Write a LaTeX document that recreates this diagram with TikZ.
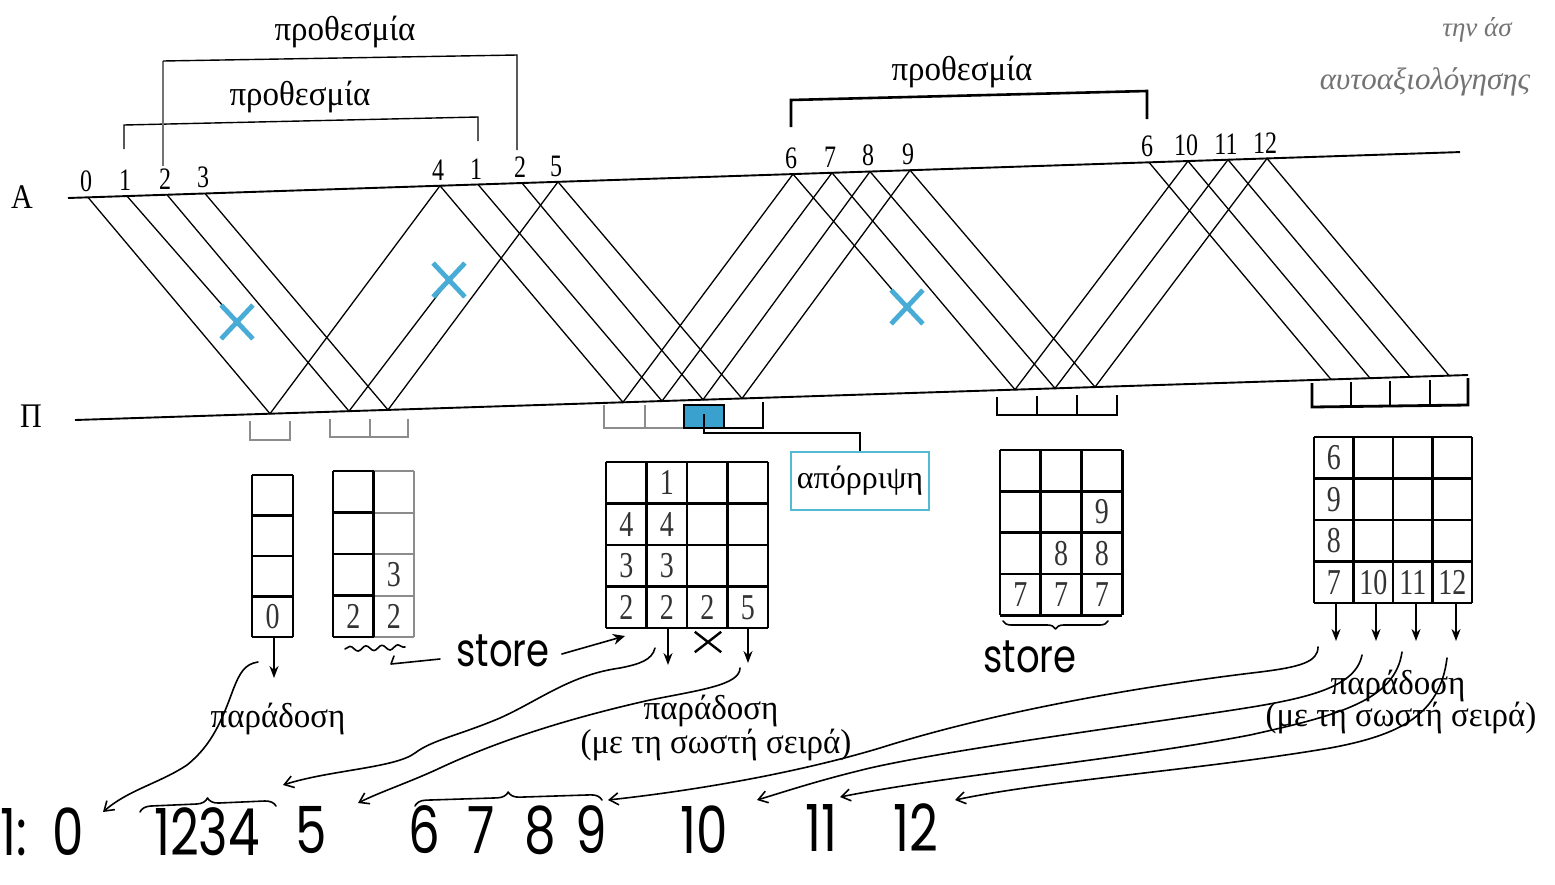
\documentclass[tikz,border=0pt]{standalone}
\usepackage{fontspec}
\setmainfont{Liberation Serif}
\newfontfamily\handfont{Poppins}
\usetikzlibrary{arrows.meta,decorations.pathreplacing,decorations.pathmorphing,shapes.misc,calc}
\definecolor{xblue}{RGB}{72,172,214}
\definecolor{boxblue}{RGB}{84,186,212}
\definecolor{fillblue}{RGB}{58,160,205}
\newcommand\onA[2]{\coordinate (#1) at (#2,{198-0.033*(#2-68)});}
\newcommand\onP[2]{\coordinate (#1) at (#2,{420-0.0323*(#2-75)});}
\newcommand\tgrid[7]{%
  \foreach \ii in {0,...,#4}{\draw[#1] ({#2+\ii*#6},#3) -- ({#2+\ii*#6},{#3+#5*#7});}%
  \foreach \jj in {0,...,#5}{\draw[#1] (#2,{#3+\jj*#7}) -- ({#2+#4*#6},{#3+\jj*#7});}}
\newcommand\settab[4]{\def\TX{#1}\def\TY{#2}\def\CW{#3}\def\RH{#4}}
\newcommand\cnum[4]{\node[cellnum] (#1) at ({\TX+(#3-0.5)*\CW},{\TY+(#2-0.5)*\RH}) {#4};}
\begin{document}
\begin{tikzpicture}[x=1pt,y=-1pt,
  seq/.style={line width=1.3pt},
  axisline/.style={line width=1.9pt},
  axlabel/.style={font=\fontsize{30}{30}\selectfont, inner sep=0pt, yscale=1.15},
  numlab/.style={font=\fontsize{24}{24}\selectfont, anchor=south, inner sep=0pt, yshift=5pt, yscale=1.3},
  greek/.style={font=\fontsize{33}{34}\selectfont, inner sep=0pt, yscale=1.05},
  note/.style={font=\itshape\fontsize{31}{32}\selectfont, inner sep=0pt, text=black!55},
  lost/.style={cross out, draw=xblue, line width=4.8pt, minimum width=27pt, minimum height=29pt, inner sep=0pt},
  deadline/.style={line width=1.4pt},
  gbuf/.style={black!45, line width=2pt},
  bbuf/.style={black, line width=2.8pt},
  tabl/.style={line width=2.8pt, line cap=square},
  gtabl/.style={black!45, line width=2pt, line cap=square},
  cellnum/.style={font=\fontsize{28}{28}\selectfont, inner sep=0pt, text=black!80, yscale=1.3},
  darr/.style={line width=1.7pt, -{Stealth[length=12pt,width=9pt]}},
  handline/.style={line width=1.6pt, line cap=round, line join=round},
  handarrow/.style={handline, -{Straight Barb[length=9pt,width=12pt]}},
  storetxt/.style={font=\handfont\fontsize{37}{37}\selectfont, inner sep=0pt, yscale=1.25},
  seqtxt/.style={font=\handfont\fontsize{50}{50}\selectfont, inner sep=0pt, yscale=1.3},
  discard/.style={draw=boxblue, line width=2.2pt, minimum width=138pt, minimum height=58pt, inner sep=2pt, font=\fontsize{32}{33}\selectfont},
]
\useasboundingbox (0,0) rectangle (1555,884);
\fill[white] (0,0) rectangle (1555,884);

% ---------- axes ----------
\node[axlabel] (labA) at (22,197) {A};
\node[axlabel] (labP) at (31,416) {Π};
\onA{Aleft}{68}\onA{Aright}{1460}
\onP{Pleft}{75}\onP{Pright}{1468}
\draw[axisline] (Aleft) -- (Aright);
\draw[axisline] (Pleft) -- (Pright);

% ---------- points on A ----------
\onA{a0}{88}\onA{a1}{127}\onA{a2}{167}\onA{a3}{205}
\onA{a4}{440}\onA{a1r}{478}\onA{a2r}{522}\onA{a5}{558}
\onA{a6}{793}\onA{a7}{832}\onA{a8}{870}\onA{a9}{910}
\onA{a6r}{1149}\onA{a10}{1188}\onA{a11}{1228}\onA{a12}{1267}
% ---------- points on P ----------
\onP{p0}{270}\onP{p2}{349}\onP{p3}{388}
\onP{p4}{623}\onP{p1r}{662}\onP{p2r}{703}\onP{p5}{742}
\onP{p7}{1015}\onP{p8}{1055}\onP{p9}{1095}
\onP{p6r}{1331}\onP{p10}{1370}\onP{p11}{1410}\onP{p12}{1449}
\coordinate (x1) at (237,322);
\coordinate (x2) at (449,280);
\coordinate (x3) at (907,307);

% ---------- frames and acks ----------
\draw[seq] (a0) -- (p0) -- (a4) -- (p4) -- (a6) -- (x3);
\draw[seq] (a1) -- (x1);
\draw[seq] (a2) -- (p2) -- (x2);
\draw[seq] (a3) -- (p3) -- (a5) -- (p5) -- (a9) -- (p9) -- (a12) -- (p12);
\draw[seq] (a1r) -- (p1r) -- (a7) -- (p7) -- (a10) -- (p10);
\draw[seq] (a2r) -- (p2r) -- (a8) -- (p8) -- (a11) -- (p11);
\draw[seq] (a6r) -- (p6r);

\foreach \c/\t in {a0/0,a1/1,a2/2,a3/3,a4/4,a1r/1,a2r/2,a5/5,a6/6,a7/7,a8/8,a9/9,a6r/6,a10/10,a11/11,a12/12}
  \node[numlab] (n-\c) at ([xshift=-2pt]\c) {\t};

\node[lost] (lx1) at (x1) {};
\node[lost] (lx2) at (x2) {};
\node[lost] (lx3) at (x3) {};

% ---------- deadlines ----------
\draw[deadline] (124,149) -- (124,125) -- (478,117) -- (478,141);
\node[greek] (dl1) at (300,97) {προθεσμία};
\draw[deadline, black!55] (163,166) -- (163,61);
\draw[deadline] (163,61) -- (517,55) -- (517,150);
\node[greek] (dl2) at (345,32) {προθεσμία};
\draw[line width=2.6pt] (791,127) -- (791,100) -- (1147,91) -- (1147,119);
\node[greek] (dl3) at (962,72) {προθεσμία};

\node[note, font=\itshape\fontsize{27}{28}\selectfont] (tr1) at (1477,30) {την άσ};
\node[note] (tr2) at (1425,82) {αυτοαξιολόγησης};

% ---------- receiver windows ----------
\draw[gbuf] (250,421) -- (250,440) -- (290,440) -- (290,421);
\draw[gbuf] (330,419) -- (330,437) -- (408,437) -- (408,419);
\draw[gbuf] (370,419) -- (370,437);
\draw[gbuf] (604,405) -- (604,428) -- (684,428);
\draw[gbuf] (645,405) -- (645,428);
\draw[bbuf, fill=fillblue] (684,405) rectangle (724,428);
\draw[bbuf] (724,428) -- (763,428) -- (763,402);
\draw[bbuf] (997,397) -- (997,415) -- (1117,415) -- (1117,395);
\draw[bbuf] (1037,396) -- (1037,415);
\draw[bbuf] (1077,395) -- (1077,415);
\draw[bbuf] (1312,383) -- (1312,407) -- (1468,405) -- (1468,378);
\draw[bbuf] (1351,382) -- (1351,406);
\draw[bbuf] (1390,381) -- (1390,406);
\draw[bbuf] (1430,380) -- (1430,405);

\node[discard] (disc) at (860,481) {απόρριψη};
\coordinate (slotc) at (704,414);
\draw[line width=2.6pt] (slotc) -- ++(0,19) -| (disc.north);

% ---------- receiver buffers ----------
\tgrid{tabl}{252}{475}{1}{4}{41}{40.5}
\settab{252}{475}{41}{40.5}
\cnum{t1-41}{4}{1}{0}

\tgrid{gtabl}{333}{471}{2}{4}{40.5}{41.5}
\tgrid{tabl}{333}{471}{1}{4}{40.5}{41.5}
\settab{333}{471}{40.5}{41.5}
\cnum{t2-32}{3}{2}{3}
\cnum{t2-41}{4}{1}{2}
\cnum{t2-42}{4}{2}{2}

\tgrid{tabl}{606}{462}{4}{4}{40.5}{41.5}
\settab{606}{462}{40.5}{41.5}
\cnum{t3-12}{1}{2}{1}
\cnum{t3-21}{2}{1}{4}
\cnum{t3-22}{2}{2}{4}
\cnum{t3-31}{3}{1}{3}
\cnum{t3-32}{3}{2}{3}
\cnum{t3-41}{4}{1}{2}
\cnum{t3-42}{4}{2}{2}
\cnum{t3-43}{4}{3}{2}
\cnum{t3-44}{4}{4}{5}

\tgrid{tabl}{1000}{450}{3}{4}{40.7}{41.3}
\settab{1000}{450}{40.7}{41.3}
\cnum{t4-23}{2}{3}{9}
\cnum{t4-32}{3}{2}{8}
\cnum{t4-33}{3}{3}{8}
\cnum{t4-41}{4}{1}{7}
\cnum{t4-42}{4}{2}{7}
\cnum{t4-43}{4}{3}{7}

\tgrid{tabl}{1314}{437}{4}{4}{39.5}{41.5}
\settab{1314}{437}{39.5}{41.5}
\cnum{t5-11}{1}{1}{6}
\cnum{t5-21}{2}{1}{9}
\cnum{t5-31}{3}{1}{8}
\cnum{t5-41}{4}{1}{7}
\cnum{t5-42}{4}{2}{10}
\cnum{t5-43}{4}{3}{11}
\cnum{t5-44}{4}{4}{12}

% ---------- delivery arrows ----------
\coordinate (d1) at (274,637);
\draw[darr] (d1) -- ++(0,41);
\coordinate (d3a) at (668,628);
\coordinate (d3b) at (748,628);
\draw[darr] (d3a) -- ++(0,37);
\draw[darr] (d3b) -- ++(0,35);
\node[cross out, draw, line width=2.4pt, minimum width=24pt, minimum height=18pt, inner sep=0pt] (drop) at (708,642) {};
\foreach \k/\xx in {1/1336,2/1376,3/1416,4/1456}{
  \coordinate (d5-\k) at (\xx,604);
  \draw[darr] (d5-\k) -- ++(0,37);
}

% ---------- store annotations ----------
\draw[handline, decorate, decoration={snake, amplitude=2.5pt, segment length=16pt}] (345,649) -- (405,647);
\draw[handline] (394,656) -- (391,664) -- (440,659);
\node[storetxt] (st1) at (503,651) {store};
\coordinate (t3in) at (625,636);
\draw[handline, -{Stealth[length=12pt,width=11pt]}] ([xshift=12pt,yshift=-3pt]st1.east) -- (t3in);
\draw[handline, decorate, decoration={brace, mirror, amplitude=8pt}] (1003,621) -- (1108,621);
\node[storetxt] (st2) at (1030,657) {store};

% ---------- delivered sequence ----------
\node[seqtxt, anchor=west] (slab) at (0,832) {1:};
\node[seqtxt] (s0) at (68,832) {0};
\node[seqtxt] (s1234) at (207,832) {1234};
\node[seqtxt] (s5) at (311,830) {5};
\node[seqtxt] (s6) at (424,830) {6};
\node[seqtxt] (s7) at (481,830) {7};
\node[seqtxt] (s8) at (540,830) {8};
\node[seqtxt] (s9) at (591,830) {9};
\node[seqtxt] (s10) at (704,830) {10};
\node[seqtxt] (s11) at (821,828) {11};
\node[seqtxt] (s12) at (916,828) {12};
\draw[handline, decorate, decoration={brace, amplitude=11pt}] (140,812) -- (276,806);
\draw[handline, decorate, decoration={brace, amplitude=11pt}] (415,806) -- (602,800);

% ---------- delivery curves ----------
\coordinate (cA) at (258,662); \coordinate (eA) at (103,812);
\coordinate (cB) at (655,648); \coordinate (eB) at (283,785);
\coordinate (cC) at (740,668); \coordinate (eC) at (358,803);
\coordinate (cD) at (1318,647); \coordinate (eD) at (608,800);
\coordinate (cE) at (1362,655); \coordinate (eE) at (757,800);
\coordinate (cF) at (1402,652); \coordinate (eF) at (840,797);
\coordinate (cG) at (1447,658); \coordinate (eG) at (955,800);
\draw[handarrow] (cA) .. controls (245,664) and (240,672) .. (233,690) .. controls (222,720) and (212,745) .. (187,765) .. controls (160,783) and (128,790) .. (eA);
\draw[handarrow] (cB) .. controls (652,660) and (640,664) .. (620,668) .. controls (570,675) and (540,700) .. (500,718) .. controls (460,735) and (432,740) .. (415,753) .. controls (395,768) and (330,770) .. (eB);
\draw[handarrow] (cC) .. controls (740,685) and (700,690) .. (650,700) .. controls (570,718) and (500,740) .. (440,768) .. controls (410,782) and (380,792) .. (eC);
\draw[handarrow] (cD) .. controls (1318,662) and (1300,667) .. (1260,672) .. controls (1150,685) and (1000,710) .. (880,748) .. controls (800,772) and (700,790) .. (eD);
\draw[handarrow] (cE) .. controls (1355,690) and (1300,700) .. (1220,712) .. controls (1100,730) and (950,750) .. (870,768) .. controls (820,780) and (790,790) .. (eE);
\draw[handarrow] (cF) .. controls (1395,700) and (1340,715) .. (1250,735) .. controls (1120,760) and (950,775) .. (eF);
\draw[handarrow] (cG) .. controls (1440,715) and (1400,735) .. (1330,748) .. controls (1200,770) and (1050,780) .. (eG);

% ---------- delivery labels ----------
\node[greek] (par1) at (278,719) {παράδοση};
\node[greek] (par2) at (711,711) {παράδοση};
\node[greek] (par2b) at (716,745) {(με τη σωστή σειρά)};
\node[greek] (par3) at (1398,686) {παράδοση};
\node[greek] (par3b) at (1401,718) {(με τη σωστή σειρά)};
\end{tikzpicture}
\end{document}
